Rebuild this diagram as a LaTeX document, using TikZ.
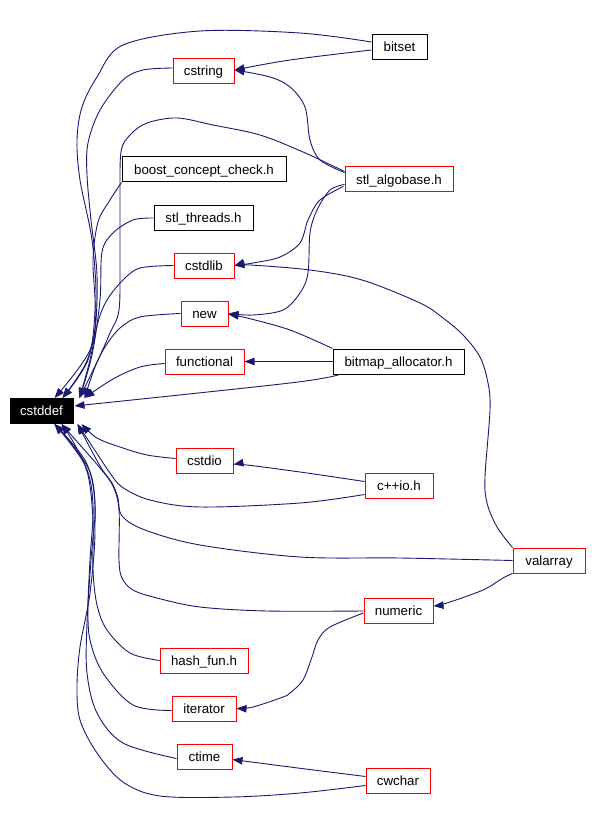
\documentclass[tikz,border=0pt]{standalone}
\usepackage{fontspec}
\setmainfont{Liberation Sans}
\usetikzlibrary{arrows.meta,calc}
\definecolor{navyline}{RGB}{25,25,112}
\begin{document}
\begin{tikzpicture}[x=1pt,y=-1pt,
  nbox/.style={rectangle, inner sep=0pt, minimum height=25pt, line width=1pt,
    font=\fontsize{13.3}{15}\selectfont, text height=10pt, text depth=0.5pt},
  redbox/.style={nbox, draw=red},
  blkbox/.style={nbox, draw=black},
  rootbox/.style={nbox, draw=black, fill=black, text=white},
  dep/.style={draw=navyline, line width=0.9pt, -{Triangle[length=10pt,width=7.5pt]}},
  sm/.style={smooth, tension=0.55}]
\useasboundingbox (0,0) rectangle (591,826);

% nodes
\node[rootbox, minimum width=63pt] (cstddef) at (41.5,411) {cstddef};
\node[blkbox, minimum width=55pt] (bitset) at (399.5,47) {bitset};
\node[redbox, minimum width=61pt] (cstring) at (203.5,71) {cstring};
\node[blkbox, minimum width=164pt] (boost) at (204,169.5) {boost\_concept\_check.h};
\node[blkbox, minimum width=99pt] (threads) at (203.5,218) {stl\_threads.h};
\node[redbox, minimum width=60pt] (cstdlib) at (204,265.5) {cstdlib};
\node[redbox, minimum width=108pt] (algobase) at (399,179.5) {stl\_algobase.h};
\node[redbox, minimum width=47pt] (new) at (204.5,313.5) {new};
\node[redbox, minimum width=79pt] (functional) at (204.5,361.5) {functional};
\node[blkbox, minimum width=131pt] (bitmap) at (398.5,361.5) {bitmap\_allocator.h};
\node[redbox, minimum width=57pt] (cstdio) at (204.5,460.5) {cstdio};
\node[redbox, minimum width=68pt] (cppio) at (399,485.5) {c++io.h};
\node[redbox, minimum width=72pt] (valarray) at (549,560.5) {valarray};
\node[redbox, minimum width=69pt] (numeric) at (398.5,611) {numeric};
\node[redbox, minimum width=88pt] (hashfun) at (204,660.5) {hash\_fun.h};
\node[redbox, minimum width=64pt] (iterator) at (204,708.5) {iterator};
\node[redbox, minimum width=55pt] (ctime) at (204.5,756.5) {ctime};
\node[redbox, minimum width=64pt] (cwchar) at (398,780.5) {cwchar};

% arrow tip points on cstddef
\coordinate (T1) at ($(cstddef.north west)+(45,0)$);
\coordinate (T2) at ($(cstddef.north west)+(53,0)$);
\coordinate (T3) at ($(cstddef.north west)+(70,0)$);
\coordinate (T4) at ($(cstddef.north west)+(75,0)$);
\coordinate (B1) at ($(cstddef.south west)+(45,0)$);
\coordinate (B2) at ($(cstddef.south west)+(52,0)$);
\coordinate (B3) at ($(cstddef.south west)+(68,0)$);
\coordinate (B4) at ($(cstddef.south west)+(72,0)$);
\coordinate (R) at ($(cstddef.east)+(1,-5)$);

% edges into cstddef (top side)
\draw[dep] plot[sm] coordinates {($(bitset.west)+(0,-5)$) (300,33) (200,31) (123,45) (97,77) (82,107) (77,140) (80,180) (92,240) (96,300) (90,350) (T1)};
\draw[dep] plot[sm] coordinates {($(cstring.west)+(0,-3)$) (143,70) (123,80) (100,110) (88,143) (87,175) (91,220) (97,275) (95,330) (85,365) (T2)};
\draw[dep] plot[sm] coordinates {(boost.south west) (110,200) (98,222) (93,260) (95,310) (88,360) (T2)};
\draw[dep] plot[sm] coordinates {(threads.west) (133,220) (113,233) (102,252) (100,300) (92,355) (T3)};
\draw[dep] plot[sm] coordinates {(cstdlib.west) (140,268) (123,280) (107,300) (98,322) (90,360) (T3)};
\draw[dep] plot[sm] coordinates {($(algobase.west)+(0,-8)$) (303,152) (260,135) (213,125) (177,118) (147,123) (130,135) (121,152) (120,200) (120,260) (119,310) (110,333) (98,360) (T3)};
\draw[dep] plot[sm] coordinates {(new.west) (140,317) (120,328) (105,347) (95,367) (T4)};
\draw[dep] plot[sm] coordinates {($(functional.west)+(0,2)$) (140,367) (113,379) (T4)};
\draw[dep] plot[sm] coordinates {($(bitmap.south west)+(7,0)$) (290,383) (R)};

% edges into cstddef (bottom side)
\draw[dep] plot[sm] coordinates {($(cstdio.west)+(0,-2)$) (147,455) (120,447) (97,438) (B4)};
\draw[dep] plot[sm] coordinates {($(cppio.south west)+(0,-4)$) (300,503) (200,507) (150,500) (122,487) (110,473) (96,452) (B3)};
\draw[dep] plot[sm] coordinates {(valarray.west) (400,558) (300,557) (200,545) (145,530) (122,516) (118,498) (112,483) (100,466) (B3)};
\draw[dep] plot[sm] coordinates {(numeric.west) (267,611) (200,607) (157,598) (133,590) (122,578) (119,560) (119,510) (113,486) (100,468) (80,445) (B2)};
\draw[dep] plot[sm] coordinates {(hashfun.west) (130,653) (107,630) (97,605) (93,570) (93,520) (88,475) (75,445) (B2)};
\draw[dep] plot[sm] coordinates {($(iterator.west)+(0,2)$) (133,705) (103,673) (90,640) (88,607) (90,560) (93,505) (85,465) (B1)};
\draw[dep] plot[sm] coordinates {($(ctime.west)+(0,2)$) (123,743) (97,713) (87,673) (87,623) (91,560) (95,505) (86,462) (B1)};
\draw[dep] plot[sm] coordinates {($(cwchar.south west)+(0,-8)$) (300,793) (233,797) (160,796) (123,782) (97,753) (80,720) (77,687) (80,647) (90,593) (95,530) (90,472) (B1)};

% other edges
\draw[dep] plot[sm] coordinates {($(bitset.west)+(0,3)$) (290,60) ($(cstring.east)+(0,-1)$)};
\draw[dep] plot[sm] coordinates {($(algobase.west)+(0,-7)$) (320,160) (310,140) (305,107) (290,87) (270,77) ($(cstring.east)+(0,-1)$)};
\draw[dep] plot[sm] coordinates {($(algobase.west)+(-1,7)$) (320,200) (308,220) (300,243) (280,257) (253,263) (cstdlib.east)};
\draw[dep] plot[sm] coordinates {($(algobase.west)+(0,5)$) (330,190) (317,210) (310,233) (308,273) (300,293) (283,310) (253,315) (new.east)};
\draw[dep] plot[sm] coordinates {(valarray.north west) (497,527) (487,503) (485,477) (490,410) (488,383) (480,357) (463,335) (443,318) (420,303) (362,280) (310,270) (250,265) (cstdlib.east)};
\draw[dep] plot[sm] coordinates {(bitmap.north west) (290,330) (247,318) ($(new.east)+(0,1)$)};
\draw[dep] (bitmap.west) -- (functional.east);
\draw[dep] plot[sm] coordinates {($(cppio.west)+(0,-4)$) (300,472) (247,465) ($(cstdio.east)+(0,4)$)};
\draw[dep] plot[sm] coordinates {(valarray.south west) (503,578) (483,590) (447,603) ($(numeric.east)+(0,-5)$)};
\draw[dep] plot[sm] coordinates {($(numeric.west)+(0,2)$) (330,627) (318,640) (312,657) (303,680) (290,693) (283,697) (253,707) (iterator.east)};
\draw[dep] plot[sm] coordinates {($(cwchar.west)+(0,-4)$) (290,767) ($(ctime.east)+(0,3)$)};
\end{tikzpicture}
\end{document}
